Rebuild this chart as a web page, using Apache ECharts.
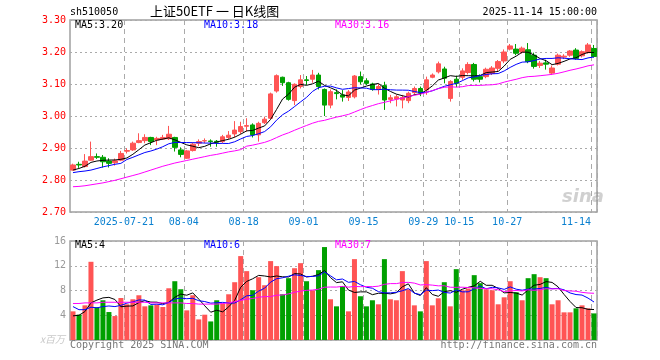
<!DOCTYPE html>
<html><head><meta charset="utf-8">
<script src="https://cdn.jsdelivr.net/npm/echarts@6/dist/echarts.min.js"></script>
<style>html,body{margin:0;padding:0;background:#fff}#c{width:660px;height:360px}</style>
</head><body><div id="c"></div>
<script>
const dates = [
'2025-07-08','2025-07-09','2025-07-10','2025-07-11','2025-07-14','2025-07-15','2025-07-16','2025-07-17','2025-07-18','2025-07-21',
'2025-07-22','2025-07-23','2025-07-24','2025-07-25','2025-07-28','2025-07-29','2025-07-30','2025-07-31',
'2025-08-01','2025-08-04','2025-08-05','2025-08-06','2025-08-07','2025-08-08','2025-08-11','2025-08-12','2025-08-13','2025-08-14','2025-08-15',
'2025-08-18','2025-08-19','2025-08-20','2025-08-21','2025-08-22','2025-08-25','2025-08-26','2025-08-27','2025-08-28','2025-08-29',
'2025-09-01','2025-09-02','2025-09-03','2025-09-04','2025-09-05','2025-09-08','2025-09-09','2025-09-10','2025-09-11','2025-09-12',
'2025-09-15','2025-09-16','2025-09-17','2025-09-18','2025-09-19','2025-09-22','2025-09-23','2025-09-24','2025-09-25','2025-09-26',
'2025-09-29','2025-09-30','2025-10-09','2025-10-10','2025-10-13','2025-10-14','2025-10-15','2025-10-16','2025-10-17','2025-10-20',
'2025-10-21','2025-10-22','2025-10-23','2025-10-24','2025-10-27','2025-10-28','2025-10-29','2025-10-30','2025-10-31',
'2025-11-03','2025-11-04','2025-11-05','2025-11-06','2025-11-07','2025-11-10','2025-11-11','2025-11-12','2025-11-13','2025-11-14'];
const opens = [2.831,2.849,2.842,2.862,2.873,2.871,2.859,2.854,2.862,2.890,2.894,2.917,2.923,2.933,2.925,2.928,2.929,2.933,2.894,2.868,
2.892,2.915,2.922,2.922,2.921,2.920,2.933,2.944,2.951,2.968,2.972,2.941,2.979,2.993,3.078,3.121,3.104,3.048,3.092,3.113,
3.115,3.128,3.083,3.034,3.073,3.066,3.058,3.060,3.123,3.110,3.100,3.083,3.095,3.052,3.053,3.050,3.048,3.073,3.086,3.081,
3.121,3.138,3.147,3.055,3.115,3.121,3.136,3.161,3.123,3.123,3.133,3.149,3.172,3.209,3.209,3.200,3.207,3.190,3.158,3.166,
3.134,3.162,3.184,3.190,3.206,3.188,3.198,3.211];
const closes = [2.847,2.847,2.859,2.873,2.871,2.857,2.852,2.860,2.883,2.892,2.915,2.923,2.933,2.920,2.930,2.933,2.943,2.902,2.880,2.891,
2.912,2.920,2.923,2.920,2.918,2.935,2.940,2.956,2.967,2.970,2.941,2.977,2.990,3.069,3.126,3.104,3.052,3.099,3.113,3.111,
3.128,3.092,3.034,3.076,3.070,3.059,3.075,3.125,3.107,3.102,3.083,3.092,3.050,3.057,3.060,3.058,3.071,3.086,3.072,3.113,
3.128,3.163,3.118,3.108,3.102,3.141,3.161,3.115,3.115,3.146,3.150,3.170,3.200,3.219,3.196,3.212,3.170,3.155,3.165,3.162,
3.150,3.190,3.187,3.203,3.180,3.201,3.222,3.186];
const lows = [2.829,2.838,2.839,2.860,2.866,2.839,2.839,2.845,2.859,2.883,2.891,2.915,2.915,2.909,2.909,2.925,2.925,2.889,2.871,2.866,
2.889,2.906,2.915,2.904,2.904,2.915,2.927,2.933,2.944,2.951,2.933,2.920,2.975,2.990,3.073,3.094,3.048,3.034,3.086,3.097,
3.104,3.083,3.000,3.024,3.052,3.045,3.047,3.055,3.099,3.097,3.079,3.067,3.019,3.040,3.030,3.024,3.040,3.066,3.062,3.066,
3.118,3.133,3.102,3.045,3.090,3.113,3.130,3.108,3.105,3.118,3.128,3.140,3.165,3.205,3.190,3.195,3.165,3.148,3.150,3.145,
3.128,3.158,3.178,3.185,3.176,3.183,3.195,3.183];
const highs = [2.851,2.857,2.881,2.920,2.883,2.878,2.868,2.867,2.891,2.899,2.920,2.946,2.943,2.935,2.935,2.941,2.969,2.935,2.902,2.894,
2.917,2.927,2.930,2.927,2.925,2.941,2.953,2.984,2.982,2.993,2.977,2.982,2.998,3.073,3.130,3.123,3.107,3.102,3.128,3.125,
3.144,3.135,3.086,3.083,3.083,3.081,3.081,3.128,3.139,3.118,3.104,3.100,3.107,3.066,3.067,3.066,3.076,3.092,3.092,3.123,
3.133,3.170,3.154,3.112,3.126,3.149,3.168,3.166,3.130,3.151,3.156,3.175,3.208,3.225,3.225,3.217,3.228,3.198,3.172,3.176,
3.158,3.195,3.193,3.206,3.212,3.205,3.228,3.222];
const volumes = [4.63,4.09,5.60,12.64,5.28,6.42,4.52,3.87,6.79,5.77,6.58,7.23,5.44,5.60,5.71,5.33,8.36,9.50,8.20,4.79,
7.23,3.33,4.09,3.00,6.42,5.90,7.39,9.34,13.56,11.13,8.04,10.15,8.85,12.75,11.94,7.39,9.99,11.60,12.42,9.50,
8.04,11.29,15.02,6.58,5.44,8.69,4.63,13.07,7.07,5.44,6.42,5.77,13.07,6.58,6.42,11.13,8.20,5.60,4.63,12.75,
5.60,6.74,9.34,5.44,11.45,8.04,8.31,10.48,9.18,8.20,8.04,5.77,6.90,9.50,7.72,6.42,9.99,10.64,10.15,9.99,
5.77,6.42,4.47,4.47,5.12,5.60,5.12,4.30];
const ma5Head = [2.831,2.836,2.843,2.855];
const ma10Head = [2.823,2.826,2.828,2.831,2.836,2.841,2.845,2.849,2.852];
const ma30Head = [2.779,2.780,2.782,2.785,2.788,2.791,2.795,2.799,2.804,2.809,2.814,2.819,2.825,2.831,2.837,2.843,2.848,2.853,2.857,2.861,2.865,2.869,2.873,2.877,2.880,2.884,2.888,2.891,2.895];
const vma5Head = [3.9,4.0,4.6,6.0];
const vma10Head = [5.4,4.9,4.9,5.3,5.2,5.4,5.5,5.4,5.6];
const vma30Head = [5.9,5.9,6.0,6.0,6.0,6.1,6.1,6.1,6.1,6.1,6.1,6.1,6.1,6.0,6.0,6.0,6.0,6.0,6.0,5.9,5.9,5.8,5.8,5.8,5.8,5.9,6.0,6.2,6.4];
const labelDates = ['2025-07-21','2025-08-04','2025-08-18','2025-09-01','2025-09-15','2025-09-29','2025-10-15','2025-10-27','2025-11-14'];
const labelTexts = ['2025-07-21','08-04','08-18','09-01','09-15','09-29','10-15','10-27','11-14'];
const priceTicks = {min: 2.7, max: 3.3, step: 0.1};
const volTicks = {min: 0, max: 16, step: 4};
const headerTexts = {code: 'sh510050', title: '上证50ETF 一 日K线图', time: '2025-11-14 15:00:00'};
const priceLegend = ['MA5:3.20', 'MA10:3.18', 'MA30:3.16'];
const volLegend = ['MA5:4', 'MA10:6', 'MA30:7'];

function movAvg(vals, n, head, dec) {
  return vals.map((v, i) => {
    if (i < n - 1) return head[i];
    let s = 0; for (let k = i - n + 1; k <= i; k++) s += vals[k];
    return +(s / n).toFixed(dec);
  });
}
const RED = '#ff5454', GREEN = '#00a000';
const MONO = 'DejaVu Sans Mono';
const isLabel = (i, v) => labelDates.indexOf(v) >= 0;
const candle = dates.map((d, i) => [opens[i], closes[i], lows[i], highs[i]]);
const volData = volumes.map((v, i) => ({value: v, itemStyle: {color: closes[i] >= opens[i] ? RED : GREEN}}));

const chart = echarts.init(document.getElementById('c'), null, {renderer: 'canvas'});
const xBase = (gi, showLabel) => ({
  type: 'category', gridIndex: gi, data: dates, boundaryGap: true,
  axisLine: {show: false}, axisTick: {show: false},
  axisLabel: showLabel ? {
    show: true, interval: isLabel, color: '#0a80d0', fontFamily: MONO, fontSize: 10, margin: 5,
    padding: [0, 6, 0, 0],
    formatter: v => { const t = labelTexts[labelDates.indexOf(v)]; return v === dates[dates.length - 1] ? '{e|' + t + '}' : t; },
    rich: {e: {padding: [0, 30, 0, 0], color: '#0a80d0', fontFamily: MONO, fontSize: 10}}
  } : {show: false},
  splitLine: {show: true, interval: isLabel, lineStyle: {color: '#aaaaaa', type: [5, 4], width: 1}}
});
chart.setOption({
  animation: false,
  backgroundColor: '#fff',
  grid: [
    {left: 70, top: 20, width: 527, height: 192, show: true, borderColor: '#a0a0a0', borderWidth: 1.5},
    {left: 70, top: 241, width: 527, height: 99, show: true, borderColor: '#a0a0a0', borderWidth: 1.5}
  ],
  xAxis: [xBase(0, true), xBase(1, false)],
  yAxis: [
    {type: 'value', gridIndex: 0, min: priceTicks.min, max: priceTicks.max, interval: priceTicks.step,
     axisLine: {show: false}, axisTick: {show: false},
     axisLabel: {color: '#ff0000', fontFamily: MONO, fontSize: 10, margin: 4, formatter: v => v.toFixed(2)},
     splitLine: {lineStyle: {color: '#aaaaaa', type: [2, 3]}}},
    {type: 'value', gridIndex: 1, min: volTicks.min, max: volTicks.max, interval: volTicks.step,
     axisLine: {show: false}, axisTick: {show: false},
     axisLabel: {color: '#999999', fontFamily: MONO, fontSize: 10, margin: 4, formatter: v => v === 0 ? '' : String(v)},
     splitLine: {lineStyle: {color: '#aaaaaa', type: [2, 3]}}}
  ],
  series: [
    {type: 'candlestick', xAxisIndex: 0, yAxisIndex: 0, data: candle, barWidth: 5,
     itemStyle: {color: RED, color0: GREEN, borderColor: RED, borderColor0: GREEN, borderWidth: 1}},
    {type: 'line', xAxisIndex: 0, yAxisIndex: 0, data: movAvg(closes, 5, ma5Head, 4), showSymbol: false, symbol: 'none', lineStyle: {color: '#000', width: 1}, z: 5},
    {type: 'line', xAxisIndex: 0, yAxisIndex: 0, data: movAvg(closes, 10, ma10Head, 4), showSymbol: false, symbol: 'none', lineStyle: {color: '#0000ff', width: 1}, z: 5},
    {type: 'line', xAxisIndex: 0, yAxisIndex: 0, data: movAvg(closes, 30, ma30Head, 4), showSymbol: false, symbol: 'none', lineStyle: {color: '#ff00ff', width: 1}, z: 5},
    {type: 'bar', xAxisIndex: 1, yAxisIndex: 1, data: volData, barWidth: 5},
    {type: 'line', xAxisIndex: 1, yAxisIndex: 1, data: movAvg(volumes, 5, vma5Head, 3), showSymbol: false, symbol: 'none', lineStyle: {color: '#000', width: 1}, z: 5},
    {type: 'line', xAxisIndex: 1, yAxisIndex: 1, data: movAvg(volumes, 10, vma10Head, 3), showSymbol: false, symbol: 'none', lineStyle: {color: '#0000ff', width: 1}, z: 5},
    {type: 'line', xAxisIndex: 1, yAxisIndex: 1, data: movAvg(volumes, 30, vma30Head, 3), showSymbol: false, symbol: 'none', lineStyle: {color: '#ff00ff', width: 1}, z: 5}
  ],
  graphic: [
    {type: 'text', left: 70, top: 7, style: {text: headerTexts.code, fill: '#000', font: '10px "DejaVu Sans Mono"'}},
    {type: 'text', left: 150, top: 5, style: {text: headerTexts.title, fill: '#000', font: '13px "Noto Sans CJK SC"'}},
    {type: 'text', right: 63, top: 7, style: {text: headerTexts.time, fill: '#000', font: '10px "DejaVu Sans Mono"'}},
    {type: 'text', left: 75, top: 20, z: 10, style: {text: priceLegend[0], fill: '#000', font: '10px "DejaVu Sans Mono"'}},
    {type: 'text', left: 204, top: 20, z: 10, style: {text: priceLegend[1], fill: '#0000ff', font: '10px "DejaVu Sans Mono"'}},
    {type: 'text', left: 335, top: 20, z: 10, style: {text: priceLegend[2], fill: '#ff00ff', font: '10px "DejaVu Sans Mono"'}},
    {type: 'text', left: 75, top: 240, z: 10, style: {text: volLegend[0], fill: '#000', font: '10px "DejaVu Sans Mono"'}},
    {type: 'text', left: 204, top: 240, z: 10, style: {text: volLegend[1], fill: '#0000ff', font: '10px "DejaVu Sans Mono"'}},
    {type: 'text', left: 335, top: 240, z: 10, style: {text: volLegend[2], fill: '#ff00ff', font: '10px "DejaVu Sans Mono"'}},
    {type: 'text', left: 70, top: 340, style: {text: 'Copyright 2025 SINA.COM', fill: '#777', font: '10px "DejaVu Sans Mono"'}},
    {type: 'text', right: 63, top: 340, style: {text: 'http://finance.sina.com.cn', fill: '#777', font: '10px "DejaVu Sans Mono"'}},
    {type: 'text', right: 595, top: 334, style: {text: 'x百万', fill: '#c8c8c8', font: 'italic 10px "Noto Sans CJK SC"'}},
    {type: 'text', left: 562, top: 188, z: 1, style: {text: 'sina', fill: 'rgba(150,150,150,0.45)', font: 'italic bold 18px "DejaVu Sans"'}}
  ]
});
</script></body></html>
